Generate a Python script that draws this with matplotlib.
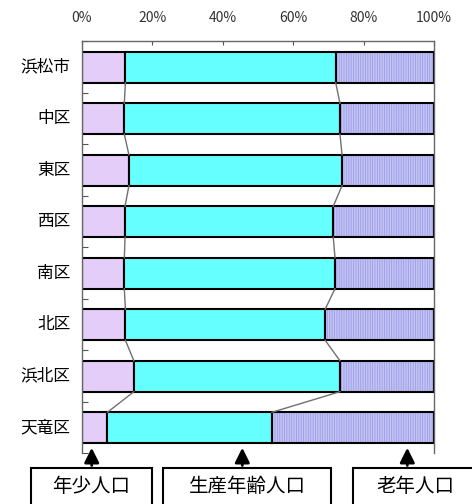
import matplotlib.pyplot as plt
from matplotlib.patches import FancyArrowPatch

plt.rcParams['font.family'] = ['Noto Sans CJK JP', 'DejaVu Sans']
plt.rcParams['hatch.linewidth'] = 0.6

# 区別の年齢3区分別人口構成比 (%)
wards = ['浜松市', '中区', '東区', '西区', '南区', '北区', '浜北区', '天竜区']
young = [12.4, 12.1, 13.4, 12.3, 12.1, 12.4, 14.8, 7.3]
working = [59.7, 61.2, 60.5, 59.1, 59.8, 56.7, 58.5, 46.7]
old = [27.9, 26.7, 26.1, 28.6, 28.1, 30.9, 26.7, 46.0]
ticks = [0, 20, 40, 60, 80, 100]
box_labels = ['年少人口', '生産年齢人口', '老年人口']

fig = plt.figure(figsize=(4.72, 5.04), dpi=100)
ax = fig.add_axes([0.1731, 0.1002, 0.7464, 0.8175])

n = len(wards)
pos = list(range(n))
h = 0.6
left2 = [a for a in young]
left3 = [a + b for a, b in zip(young, working)]

ax.barh(pos, young, height=h, color='#e4cdf8', edgecolor='black', linewidth=1.5)
ax.barh(pos, working, left=left2, height=h, color='#66ffff', edgecolor='black', linewidth=1.5)
ax.barh(pos, old, left=left3, height=h, color='#c4c4f4', edgecolor='#9c9ce6',
        linewidth=0, hatch='|||||||')
ax.barh(pos, old, left=left3, height=h, fill=False, edgecolor='black', linewidth=1.5)

# 区分線 (series lines)
for i in range(n - 1):
    for cum in (left2, left3):
        ax.plot([cum[i], cum[i + 1]], [i + h / 2, i + 1 - h / 2],
                color='#707070', linewidth=1.0, zorder=1)

ax.set_xlim(0, 100)
ax.set_ylim(n - 0.5, -0.5)
ax.xaxis.tick_top()
ax.set_xticks(ticks)
ax.set_xticklabels([f'{t}%' for t in ticks], fontsize=10, color='#333333')
ax.tick_params(axis='x', direction='in', length=3, pad=12, color='#555555')

ax.set_yticks([i + 0.5 for i in range(-1, n)], minor=False)
ax.set_yticklabels([])
ax.tick_params(axis='y', direction='in', length=4, color='#555555')
for i, w in enumerate(wards):
    ax.text(-3.2, i, w, ha='right', va='center', fontsize=12)

ax.spines['bottom'].set_visible(False)
for s in ('top', 'left', 'right'):
    ax.spines[s].set_color('#666666')
    ax.spines[s].set_linewidth(1.0)

# 下部の凡例ボックスと矢印
boxes = [(30.7, 151.7, 91.7), (163, 331, 242.3), (352.7, 478, 407.3)]
for (x0, x1, xa), lab in zip(boxes, box_labels):
    fx0, fx1, fxa = x0 / 472, x1 / 472, xa / 472
    fig.patches.append(plt.Rectangle((fx0, -0.02), fx1 - fx0, 0.02 + (504 - 468.3) / 504,
                                     transform=fig.transFigure, fill=False,
                                     edgecolor='black', linewidth=1.5))
    fig.text((fx0 + fx1) / 2, 1 - 487 / 504, lab, ha='center', va='center', fontsize=14)
    fig.patches.append(FancyArrowPatch((fxa, 1 - 468.3 / 504), (fxa, 1 - 445 / 504),
                                       transform=fig.transFigure, arrowstyle='-|>',
                                       mutation_scale=22, color='black', linewidth=2))

fig.savefig('out.png', dpi=100)
